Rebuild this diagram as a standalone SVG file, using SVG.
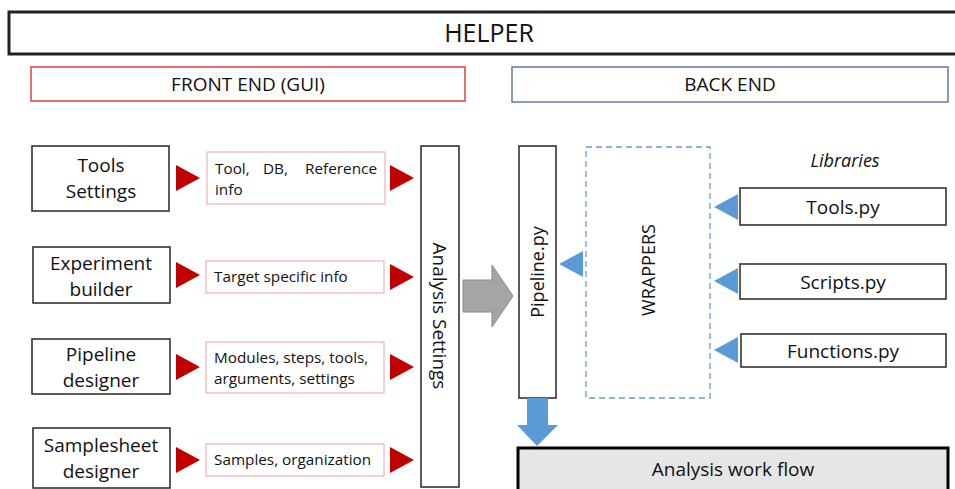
<svg xmlns="http://www.w3.org/2000/svg" width="955" height="489" viewBox="0 0 955 489">
<style>
text{font-family:"Open Sans","Liberation Sans",sans-serif;fill:#111;}
.box{fill:#fff;stroke:#333;stroke-width:1.6;}
.info{fill:#fff;stroke:#f2b8b8;stroke-width:1.3;}
.big{font-size:19px;text-anchor:middle;}
.sm{font-size:15.3px;}
.red{fill:#c00000;}
.blue{fill:#5b9bd5;}
</style>
<rect width="955" height="489" fill="#fff"/>
<g id="helper"><rect x="9" y="12" width="960" height="42" fill="#fff" stroke="#222" stroke-width="3"/><text x="489" y="42" font-size="25" text-anchor="middle">HELPER</text></g>
<g id="frontend"><rect x="31" y="67" width="434" height="34" fill="#fff" stroke="#d9343a" stroke-width="1.4"/><text x="248" y="91" font-size="19" text-anchor="middle">FRONT END (GUI)</text></g>
<g id="backend"><rect x="512" y="67" width="436" height="35" fill="#fff" stroke="#5a6f9a" stroke-width="1.4"/><text x="730" y="91" font-size="19" text-anchor="middle">BACK END</text></g>

<g id="tools-settings"><rect class="box" x="32" y="146" width="137" height="65"/><text class="big" x="101" y="172">Tools</text><text class="big" x="101" y="198">Settings</text></g>
<g id="experiment-builder"><rect class="box" x="33" y="247" width="137" height="56"/><text class="big" x="101" y="270">Experiment</text><text class="big" x="101" y="296">builder</text></g>
<g id="pipeline-designer"><rect class="box" x="32" y="339" width="138" height="55"/><text class="big" x="101" y="361">Pipeline</text><text class="big" x="101" y="387">designer</text></g>
<g id="samplesheet-designer"><rect class="box" x="33" y="428" width="137" height="60"/><text class="big" x="101" y="452">Samplesheet</text><text class="big" x="101" y="478">designer</text></g>

<g id="info1"><rect class="info" x="207" y="152" width="178" height="52"/><text class="sm" x="215" y="174">Tool,<tspan x="263">DB,</tspan><tspan x="377" text-anchor="end">Reference</tspan></text><text class="sm" x="215" y="195">info</text></g>
<g id="info2"><rect class="info" x="206" y="261" width="178" height="32"/><text class="sm" x="214" y="282">Target specific info</text></g>
<g id="info3"><rect class="info" x="206" y="342" width="178" height="51"/><text class="sm" x="214" y="363">Modules, steps, tools,</text><text class="sm" x="214" y="384">arguments, settings</text></g>
<g id="info4"><rect class="info" x="206" y="444" width="178" height="32"/><text class="sm" x="214" y="465">Samples, organization</text></g>

<g id="analysis-settings"><rect class="box" x="421" y="146" width="38" height="341"/><text transform="translate(433,316) rotate(90)" font-size="19" text-anchor="middle">Analysis Settings</text></g>

<g id="pipeline-py"><rect class="box" x="519" y="146" width="37" height="252"/><text transform="translate(544,272) rotate(-90)" font-size="18" text-anchor="middle">Pipeline.py</text></g>
<g id="wrappers"><rect x="586" y="147" width="124" height="251" fill="#fff" stroke="#6a9bc8" stroke-width="1.3" stroke-dasharray="6,4"/><text transform="translate(655,270) rotate(-90)" font-size="18" text-anchor="middle">WRAPPERS</text></g>
<text x="845" y="167" font-size="18" font-style="italic" text-anchor="middle">Libraries</text>
<g id="tools-py"><rect class="box" x="740" y="188" width="206" height="37"/><text class="big" x="843" y="214" font-size="18">Tools.py</text></g>
<g id="scripts-py"><rect class="box" x="740" y="264" width="206" height="35"/><text class="big" x="843" y="289">Scripts.py</text></g>
<g id="functions-py"><rect class="box" x="741" y="334" width="205" height="33"/><text class="big" x="843" y="358">Functions.py</text></g>
<g id="analysis-workflow"><rect x="518" y="448" width="430" height="50" fill="#e6e6e6" stroke="#000" stroke-width="3"/><text class="big" x="733" y="476">Analysis work flow</text></g>

<g id="connectors">
<polygon class="red" points="176,165 200,178 176,191"/>
<polygon class="red" points="176,262 200,275 176,288"/>
<polygon class="red" points="176,354 200,367 176,380"/>
<polygon class="red" points="176,447 200,460 176,473"/>
<polygon class="red" points="390,165 414,178 390,191"/>
<polygon class="red" points="390,264 414,277 390,290"/>
<polygon class="red" points="390,354 414,367 390,380"/>
<polygon class="red" points="390,447 414,460 390,473"/>
<polygon points="463,280 492,280 492,265 513,296 492,327 492,312 463,312" fill="#a6a4a4" stroke="#8a8a8a" stroke-width="1"/>
<polygon class="blue" points="583,251 559,264 583,277"/>
<polygon class="blue" points="738,194 714,207 738,220"/>
<polygon class="blue" points="738,268 714,281 738,294"/>
<polygon class="blue" points="738,337 714,350 738,363"/>
<polygon class="blue" points="527,398 548,398 548,425 558,425 537,446 517,425 527,425"/>
</g>
</svg>
